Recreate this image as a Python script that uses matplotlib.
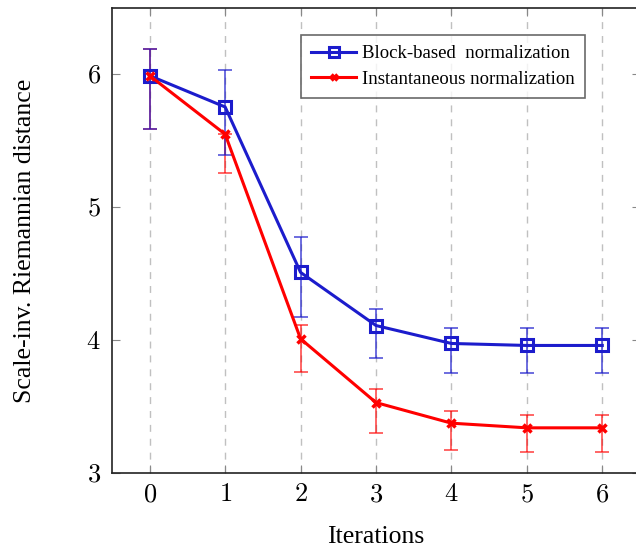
import matplotlib
matplotlib.use("Agg")
import matplotlib.pyplot as plt
import numpy as np

iterations = [0, 1, 2, 3, 4, 5, 6]
block_mean = [5.99, 5.755, 4.51, 4.11, 3.975, 3.96, 3.96]
block_low = [5.59, 5.39, 4.175, 3.865, 3.755, 3.755, 3.755]
block_high = [6.195, 6.03, 4.78, 4.235, 4.09, 4.09, 4.09]
inst_mean = [5.99, 5.55, 4.01, 3.53, 3.375, 3.34, 3.34]
inst_low = [5.59, 5.26, 3.757, 3.30, 3.17, 3.155, 3.155]
inst_high = [6.195, 5.55, 4.115, 3.63, 3.47, 3.44, 3.44]
xticks = [0, 1, 2, 3, 4, 5, 6]
yticks = [3, 4, 5, 6]

plt.rcParams['font.family'] = ['Liberation Serif', 'DejaVu Serif']
plt.rcParams['mathtext.fontset'] = 'cm'

fig = plt.figure(figsize=(6.36, 5.47), dpi=100)
ax = fig.add_axes([112/636, 74/547, 528/636, 465/547])

blue = '#1c1ccc'
red = '#ff0000'

bm = np.array(block_mean)
im = np.array(inst_mean)
be = [bm - np.array(block_low), np.array(block_high) - bm]
ie = [im - np.array(inst_low), np.array(inst_high) - im]

ax.errorbar(iterations, im, yerr=ie, fmt='none', ecolor=red, elinewidth=1.2,
            capsize=5, capthick=1.2, alpha=0.7, zorder=2)
ax.errorbar(iterations, bm, yerr=be, fmt='none', ecolor=blue, elinewidth=1.2,
            capsize=5, capthick=1.2, alpha=0.75, zorder=2.5)
ax.plot(iterations, bm, color=blue, lw=2.2, marker='s', ms=9, mfc='none',
        mec=blue, mew=2.2, label='Block-based  normalization', zorder=3)
ax.plot(iterations, im, color=red, lw=2.2, marker='x', ms=6, mew=2.5,
        label='Instantaneous normalization', zorder=5)

ax.set_xlim(-0.5, 6.5)
ax.set_ylim(3, 6.5)
ax.set_xticks(xticks)
ax.set_xticklabels([f'${v}$' for v in xticks])
ax.set_yticks(yticks)
ax.set_yticklabels([f'${v}$' for v in yticks])
ax.tick_params(direction='in', length=6, color='#888888', labelsize=19,
               top=True, right=True, pad=8)
ax.xaxis.grid(True, linestyle=(0, (5, 5)), color='#c0c0c0', lw=1)
ax.set_axisbelow(True)
for s in ax.spines.values():
    s.set_color('#222222')
    s.set_linewidth(1.2)

ax.set_xlabel('Iterations', fontsize=18.5, labelpad=14)
ax.set_ylabel('Scale-inv. Riemannian distance', fontsize=18.5, labelpad=36)

leg = ax.legend(loc='upper right', bbox_to_anchor=(0.896, 0.942), fontsize=13.5,
                frameon=True, fancybox=False, edgecolor='#444444',
                handlelength=2.4, borderpad=0.55, labelspacing=0.45,
                borderaxespad=0, markerscale=0.75, handletextpad=0.3)
leg.get_frame().set_linewidth(1.2)

fig.savefig('out.png', dpi=100)
